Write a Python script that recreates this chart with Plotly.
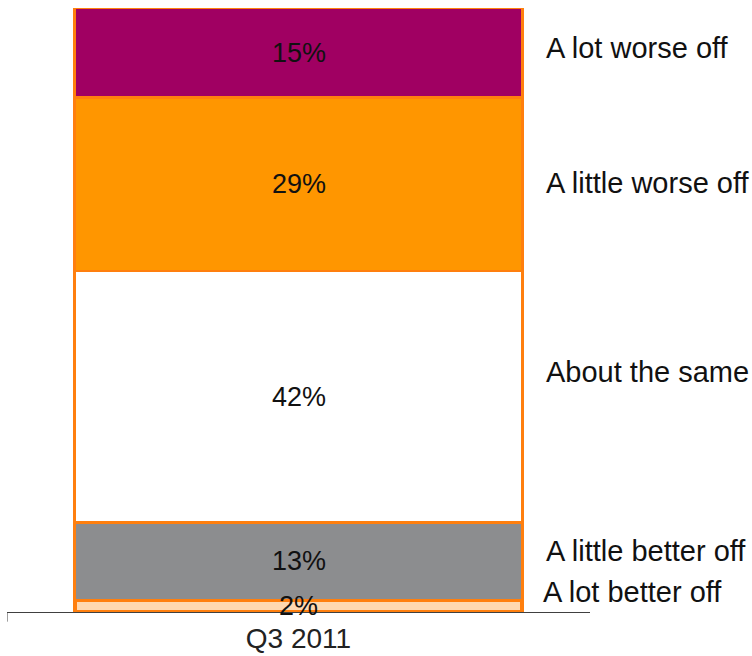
import plotly.graph_objects as go

# Survey responses for one quarter, stacked bottom to top
period = "Q3 2011"
categories = ["A lot better off", "A little better off", "About the same",
              "A little worse off", "A lot worse off"]
values = [2, 13, 42, 29, 15]
fill_colors = ["#FFD8B0", "#8C8D8F", "#FFFFFF", "#FF9600", "#A00062"]
edge_width = [4, 2.5, 2.5, 2.5, 2.5]

# Vertical nudges (px) for the category labels on the right, so they don't collide
label_shift = [14, 10, 25, 1, 5]
label_xshift = [-3, 0, 0, 0, 0]

FONT = "Liberation Sans, Arial, sans-serif"
TOTAL = sum(values)

fig = go.Figure()
for cat, v, c, w in zip(categories, values, fill_colors, edge_width):
    fig.add_trace(go.Bar(
        x=[0], y=[v], name=cat, width=0.768,
        marker=dict(color=c, line=dict(color="#FF7F0E", width=w)),
        textposition="none", hoverinfo="name+y", showlegend=False,
    ))

annotations = []
base = 0
for cat, v, ys, xs in zip(categories, values, label_shift, label_xshift):
    mid = base + v / 2
    annotations.append(dict(
        x=0, y=mid, xref="x", yref="y", text=f"{v}%", showarrow=False,
        font=dict(family=FONT, size=27, color="#111111"),
        xanchor="center", yanchor="middle",
    ))
    annotations.append(dict(
        x=0.421, y=mid, xref="x", yref="y", text=cat, showarrow=False,
        font=dict(family=FONT, size=29, color="#111111"),
        xanchor="left", yanchor="middle", yshift=ys, xshift=xs,
    ))
    base += v

fig.update_layout(
    barmode="stack",
    width=752, height=656,
    margin=dict(l=7, r=162, t=8, b=44),
    paper_bgcolor="white", plot_bgcolor="white",
    annotations=annotations,
    shapes=[dict(type="line", xref="x", yref="paper",
                 x0=-0.5, x1=-0.5, y0=0, y1=-0.016,
                 line=dict(color="#404040", width=1))],
    xaxis=dict(
        type="linear", range=[-0.5, 0.5], tickvals=[0], ticktext=[period],
        ticks="", showgrid=False, zeroline=False, automargin=False,
        showline=True, linecolor="#404040", linewidth=1,
        ticklabelstandoff=1,
        tickfont=dict(family=FONT, size=28, color="#222222"),
    ),
    yaxis=dict(range=[0, TOTAL], visible=False, showgrid=False),
)

fig.write_html("out.html")
